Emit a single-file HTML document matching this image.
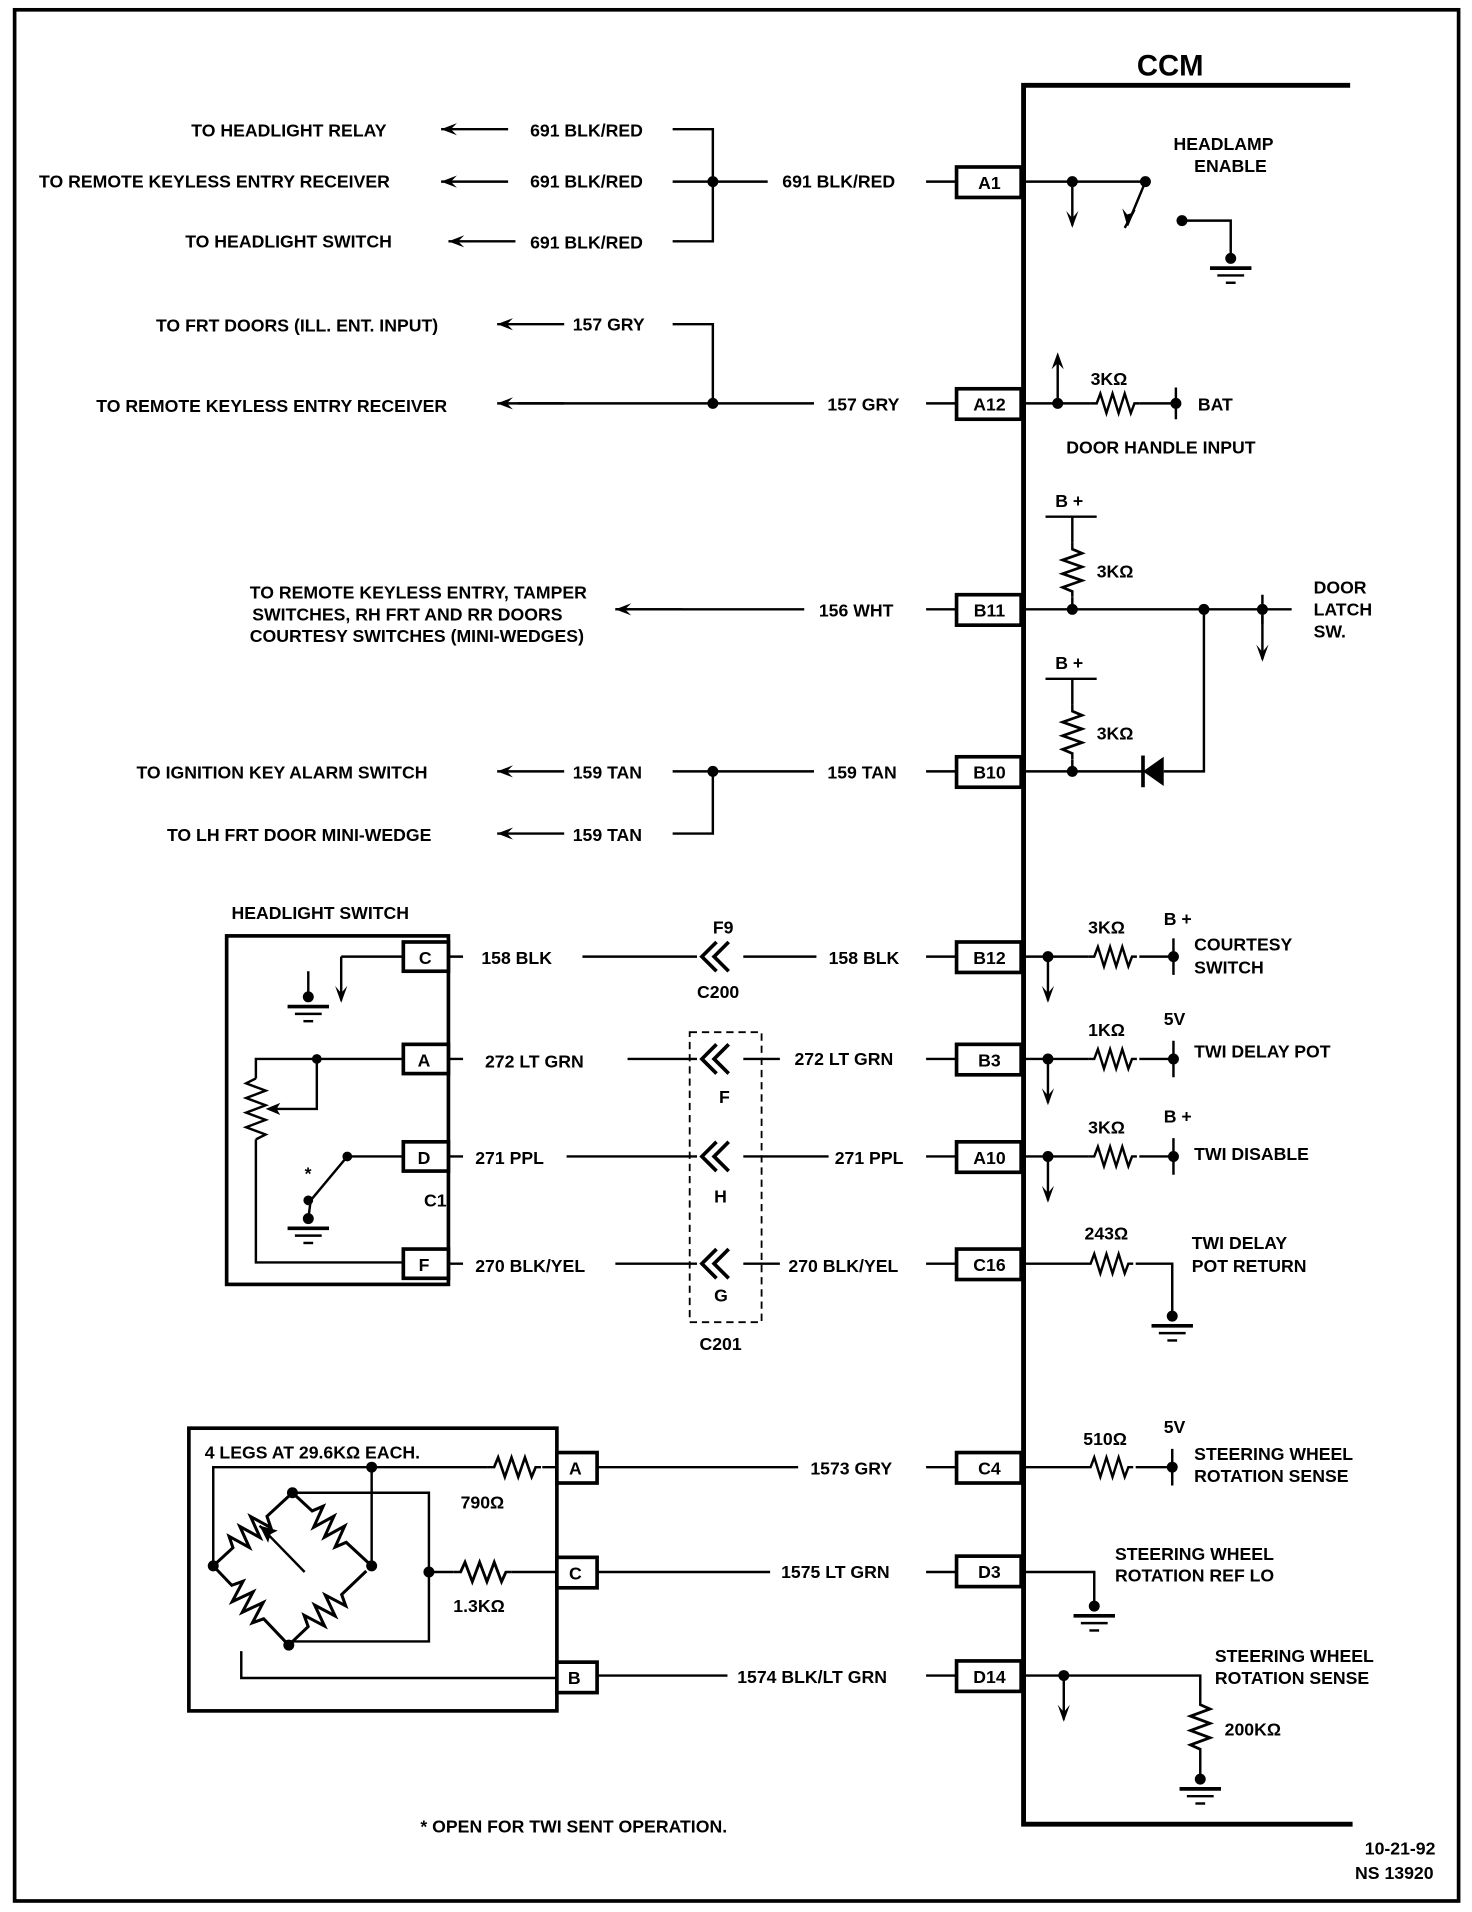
<!DOCTYPE html>
<html><head><meta charset="utf-8"><style>
html,body{margin:0;padding:0;background:#fff}
svg{display:block}
text{font-family:"Liberation Sans",sans-serif;font-weight:bold;fill:#000}
</style></head><body>
<svg width="1472" height="1912" viewBox="0 0 1208 1569" xmlns="http://www.w3.org/2000/svg">
<defs>
<path id="res" d="M0 0 L5 0 L8 -8 L13 8 L18 -8 L23 8 L28 -8 L33 8 L36 0 L40 0" fill="none" stroke="#000" stroke-width="2"/>
<path id="res2" d="M0 0 L22 0 L26 -9 L32 9 L38 -9 L44 9 L50 -9 L56 9 L60 0 L88 0" fill="none" stroke="#000" stroke-width="2.5"/>
<g id="gnd"><circle r="4.5" fill="#000"/><line x1="-17" y1="8" x2="17" y2="8" stroke="#000" stroke-width="3"/><line x1="-11" y1="14" x2="11" y2="14" stroke="#000" stroke-width="2"/><line x1="-4" y1="20" x2="4" y2="20" stroke="#000" stroke-width="2"/></g>
<g id="adn"><line x1="0" y1="0" x2="0" y2="36" stroke="#000" stroke-width="2"/><path d="M-5 24 L0 38 L5 24 L0 30Z" fill="#000"/></g>
<g id="alf"><line x1="0" y1="0" x2="55" y2="0" stroke="#000" stroke-width="2"/><path d="M0 0 L13 -5 L8 0 L13 5Z" fill="#000"/></g>
<g id="chev"><path d="M0 -12 L-12 0 L0 12 M10 -12 L-2 0 L10 12" fill="none" stroke="#000" stroke-width="3"/></g>
</defs>
<g stroke="#000" fill="none" stroke-width="2.5">
<rect x="12" y="8" width="1185" height="1552" stroke-width="3"/>
<path d="M1108 70 L840 70 L840 1497 L1110 1497" stroke-width="4"/>
</g>
<text x="933" y="62" font-size="24">CCM</text>
<g font-size="14.5">
<g stroke="#000" stroke-width="3" fill="#fff">
<rect x="785" y="137" width="53" height="25"/><rect x="785" y="319" width="53" height="25"/><rect x="785" y="488" width="53" height="25"/><rect x="785" y="621" width="53" height="25"/><rect x="785" y="773" width="53" height="25"/><rect x="785" y="857" width="53" height="25"/><rect x="785" y="937" width="53" height="25"/><rect x="785" y="1025" width="53" height="25"/><rect x="785" y="1192" width="53" height="25"/><rect x="785" y="1277" width="53" height="25"/><rect x="785" y="1363" width="53" height="25"/>
</g>
<g text-anchor="middle"><text x="812" y="155">A1</text><text x="812" y="337">A12</text><text x="812" y="506">B11</text><text x="812" y="639">B10</text><text x="812" y="791">B12</text><text x="812" y="875">B3</text><text x="812" y="955">A10</text><text x="812" y="1043">C16</text><text x="812" y="1210">C4</text><text x="812" y="1295">D3</text><text x="812" y="1381">D14</text></g>

<g stroke="#000" stroke-width="2" fill="none">
<path d="M552 106 H585 V198 H552 M552 149 H630 M760 149 H785"/>
<path d="M760 331 H785 M552 266 H585 V331 M425 331 H668"/>
<path d="M552 633 H668 M760 633 H785 M552 684 H585 V633"/>
<path d="M760 500 H785 M505 500 H660"/>
</g>
<circle cx="585" cy="149" r="4.5"/><circle cx="585" cy="331" r="4.5"/><circle cx="585" cy="633" r="4.5"/>
<use href="#alf" x="362" y="106"/><use href="#alf" x="362" y="149"/><use href="#alf" x="368" y="198"/>
<use href="#alf" x="408" y="266"/><use href="#alf" x="408" y="331"/><use href="#alf" x="505" y="500"/>
<use href="#alf" x="408" y="633"/><use href="#alf" x="408" y="684"/>
<text x="157" y="112">TO HEADLIGHT RELAY</text><text x="435" y="112">691 BLK/RED</text>
<text x="32" y="154">TO REMOTE KEYLESS ENTRY RECEIVER</text><text x="435" y="154">691 BLK/RED</text><text x="642" y="154">691 BLK/RED</text>
<text x="152" y="203">TO HEADLIGHT SWITCH</text><text x="435" y="204">691 BLK/RED</text>
<text x="128" y="272">TO FRT DOORS (ILL. ENT. INPUT)</text><text x="470" y="271">157 GRY</text>
<text x="79" y="338">TO REMOTE KEYLESS ENTRY RECEIVER</text><text x="679" y="337">157 GRY</text>
<text x="205" y="491">TO REMOTE KEYLESS ENTRY, TAMPER</text><text x="207" y="509">SWITCHES, RH FRT AND RR DOORS</text><text x="205" y="527">COURTESY SWITCHES (MINI-WEDGES)</text><text x="672" y="506">156 WHT</text>
<text x="112" y="639">TO IGNITION KEY ALARM SWITCH</text><text x="470" y="639">159 TAN</text><text x="679" y="639">159 TAN</text>
<text x="137" y="690">TO LH FRT DOOR MINI-WEDGE</text><text x="470" y="690">159 TAN</text>

<text x="190" y="754">HEADLIGHT SWITCH</text>
<rect x="186" y="768" width="182" height="286" fill="none" stroke="#000" stroke-width="3"/>
<g stroke="#000" stroke-width="3" fill="#fff"><rect x="331" y="773" width="37" height="24"/><rect x="331" y="857" width="37" height="24"/><rect x="331" y="937" width="37" height="24"/><rect x="331" y="1025" width="37" height="24"/></g>
<g text-anchor="middle"><text x="349" y="791">C</text><text x="348" y="875">A</text><text x="348" y="955">D</text><text x="348" y="1043">F</text></g>
<text x="348" y="990">C1</text>
<g stroke="#000" stroke-width="2" fill="none">
<path d="M331 785 H280 M331 869 H210 V885 M210 935 V1036 H331 M260 869 V910 H225 M331 949 H285 L255 985"/>
<path d="M253 797 V818"/>
<path d="M210 885 L202 889 L218 895 L202 901 L218 907 L202 913 L218 919 L202 925 L218 931 L210 935"/>
<path d="M368 785 H380 M478 785 H572 M610 785 H670 M760 785 H785 M368 869 H380 M515 869 H572 M610 869 H640 M760 869 H785 M368 949 H380 M465 949 H572 M610 949 H680 M760 949 H785 M368 1037 H380 M505 1037 H572 M610 1037 H640 M760 1037 H785"/>
</g>
<use href="#adn" x="280" y="785"/>
<path d="M218 910 L230 905 L227 910 L230 915Z"/>
<use href="#gnd" x="253" y="818"/><use href="#gnd" x="253" y="1000"/>
<circle cx="260" cy="869" r="4"/><circle cx="285" cy="949" r="4"/><circle cx="253" cy="985" r="4"/>
<path d="M255 985 L253 1000" stroke="#000" stroke-width="2"/>
<text x="250" y="968">*</text>
<text x="395" y="791">158 BLK</text><text x="680" y="791">158 BLK</text>
<text x="398" y="876">272 LT GRN</text><text x="652" y="874">272 LT GRN</text>
<text x="390" y="955">271 PPL</text><text x="685" y="955">271 PPL</text>
<text x="390" y="1044">270 BLK/YEL</text><text x="647" y="1044">270 BLK/YEL</text>
<use href="#chev" x="588" y="785"/><use href="#chev" x="588" y="869"/><use href="#chev" x="588" y="949"/><use href="#chev" x="588" y="1037"/>
<text x="585" y="766">F9</text><text x="572" y="819">C200</text>
<rect x="566" y="847" width="59" height="238" fill="none" stroke="#000" stroke-width="1.5" stroke-dasharray="6,4"/>
<text x="590" y="905">F</text><text x="586" y="987">H</text><text x="586" y="1068">G</text><text x="574" y="1108">C201</text>

<rect x="155" y="1172" width="302" height="232" fill="none" stroke="#000" stroke-width="3"/>
<g stroke="#000" stroke-width="3" fill="#fff"><rect x="457" y="1192" width="33" height="25"/><rect x="457" y="1278" width="33" height="25"/><rect x="457" y="1364" width="33" height="25"/></g>
<text x="467" y="1210">A</text><text x="467" y="1296">C</text><text x="466" y="1382">B</text>
<text x="168" y="1197">4 LEGS AT 29.6KΩ EACH.</text>
<g stroke="#000" stroke-width="2" fill="none">
<path d="M400 1204 H175 V1285 M305 1204 V1285 M240 1225 H352 V1347 H237 M352 1290 H372 M420 1290 H457 M445 1204 H457 M198 1355 V1377 H457 M250 1290 L213 1252"/>
<path d="M490 1204 H655 M760 1204 H785 M490 1290 H632 M760 1290 H785 M490 1375 H597 M760 1375 H785"/>
</g>
<use href="#res" transform="translate(400,1204) scale(1.1,1)"/>
<use href="#res" transform="translate(372,1290) scale(1.2,1)"/>
<use href="#res2" transform="translate(175,1285) rotate(-42.7)"/>
<use href="#res2" transform="translate(240,1225) rotate(42.7)"/>
<use href="#res2" transform="translate(175,1285) rotate(46.4)"/>
<use href="#res2" transform="translate(237,1350) rotate(-43.7)"/>
<path d="M213 1252 L228 1256 L222 1259 L220 1266Z"/>
<circle cx="305" cy="1204" r="4.5"/><circle cx="240" cy="1225" r="4.5"/><circle cx="175" cy="1285" r="4.5"/><circle cx="305" cy="1285" r="4.5"/><circle cx="237" cy="1350" r="4.5"/><circle cx="352" cy="1290" r="4.5"/>
<text x="378" y="1238">790Ω</text><text x="372" y="1323">1.3KΩ</text>
<text x="665" y="1210">1573 GRY</text><text x="641" y="1295">1575 LT GRN</text><text x="605" y="1381">1574 BLK/LT GRN</text>

<g stroke="#000" stroke-width="2" fill="none">
<path d="M838 149 H940 L925 185 M970 181 H1010 V212"/>
<path d="M838 331 H895 M935 331 H965 M965 318 V344"/>
<path d="M858 424 H900 M880 424 V445 M880 490 V500 M838 500 H1060 M1036 488 V512"/>
<path d="M858 557 H900 M880 557 V578 M880 623 V633 M838 633 H938 M955 633 H988 V500"/>
<path d="M838 785 H893 M935 785 H963 M963 770 V800"/>
<path d="M838 869 H893 M935 869 H963 M963 854 V884"/>
<path d="M838 949 H893 M935 949 H963 M963 934 V964"/>
<path d="M838 1037 H890 M932 1037 H962 V1080"/>
<path d="M838 1204 H890 M932 1204 H962 M962 1189 V1219"/>
<path d="M838 1290 H898 V1318"/>
<path d="M838 1375 H985 V1393 M985 1440 V1460"/>
</g>
<use href="#gnd" x="1010" y="212"/><use href="#gnd" x="962" y="1080"/><use href="#gnd" x="898" y="1318"/><use href="#gnd" x="985" y="1460"/>
<circle cx="880" cy="149" r="4.5"/><circle cx="940" cy="149" r="4.5"/><circle cx="970" cy="181" r="4.5"/>
<use href="#adn" x="880" y="149"/>
<path d="M925 185 L921 171 L925 176 L931 174Z"/>
<line x1="931" y1="172" x2="923" y2="187" stroke="#000" stroke-width="2"/>
<text x="963" y="123">HEADLAMP</text><text x="980" y="141">ENABLE</text>
<circle cx="868" cy="331" r="4.5"/><circle cx="965" cy="331" r="4.5"/>
<line x1="868" y1="331" x2="868" y2="292" stroke="#000" stroke-width="2"/><path d="M863 303 L868 289 L873 303 L868 298Z"/>
<use href="#res" x="895" y="331"/>
<text x="983" y="337">BAT</text><text x="895" y="316">3KΩ</text><text x="875" y="372">DOOR HANDLE INPUT</text>
<text x="866" y="416">B +</text><text x="900" y="474">3KΩ</text>
<use href="#res" transform="translate(880,445) rotate(90) scale(1.12,1)"/>
<circle cx="880" cy="500" r="4.5"/><circle cx="988" cy="500" r="4.5"/><circle cx="1036" cy="500" r="4.5"/>
<use href="#adn" x="1036" y="505"/>
<text x="1078" y="487">DOOR</text><text x="1078" y="505">LATCH</text><text x="1078" y="523">SW.</text>
<text x="866" y="549">B +</text><text x="900" y="607">3KΩ</text>
<use href="#res" transform="translate(880,578) rotate(90) scale(1.12,1)"/>
<circle cx="880" cy="633" r="4.5"/>
<path d="M955 621 L938 633 L955 645Z"/><line x1="938" y1="620" x2="938" y2="646" stroke="#000" stroke-width="3"/>
<circle cx="860" cy="785" r="4.5"/><use href="#adn" x="860" y="785"/><use href="#res" x="893" y="785"/><circle cx="963" cy="785" r="4.5"/>
<text x="893" y="766">3KΩ</text><text x="955" y="759">B +</text><text x="980" y="780">COURTESY</text><text x="980" y="799">SWITCH</text>
<circle cx="860" cy="869" r="4.5"/><use href="#adn" x="860" y="869"/><use href="#res" x="893" y="869"/><circle cx="963" cy="869" r="4.5"/>
<text x="893" y="850">1KΩ</text><text x="955" y="841">5V</text><text x="980" y="868">TWI DELAY POT</text>
<circle cx="860" cy="949" r="4.5"/><use href="#adn" x="860" y="949"/><use href="#res" x="893" y="949"/><circle cx="963" cy="949" r="4.5"/>
<text x="893" y="930">3KΩ</text><text x="955" y="921">B +</text><text x="980" y="952">TWI DISABLE</text>
<use href="#res" x="890" y="1037"/>
<text x="890" y="1017">243Ω</text><text x="978" y="1025">TWI DELAY</text><text x="978" y="1044">POT RETURN</text>
<use href="#res" x="890" y="1204"/><circle cx="962" cy="1204" r="4.5"/>
<text x="889" y="1186">510Ω</text><text x="955" y="1176">5V</text><text x="980" y="1198">STEERING WHEEL</text><text x="980" y="1216">ROTATION SENSE</text>
<text x="915" y="1280">STEERING WHEEL</text><text x="915" y="1298">ROTATION REF LO</text>
<circle cx="873" cy="1375" r="4.5"/><use href="#adn" x="873" y="1375"/>
<use href="#res" transform="translate(985,1393) rotate(90) scale(1.18,1)"/>
<text x="997" y="1364">STEERING WHEEL</text><text x="997" y="1382">ROTATION SENSE</text><text x="1005" y="1424">200KΩ</text>
<text x="345" y="1504">* OPEN FOR TWI SENT OPERATION.</text>
<text x="1120" y="1522">10-21-92</text><text x="1112" y="1542">NS 13920</text>
</g>
</svg>
</body></html>
